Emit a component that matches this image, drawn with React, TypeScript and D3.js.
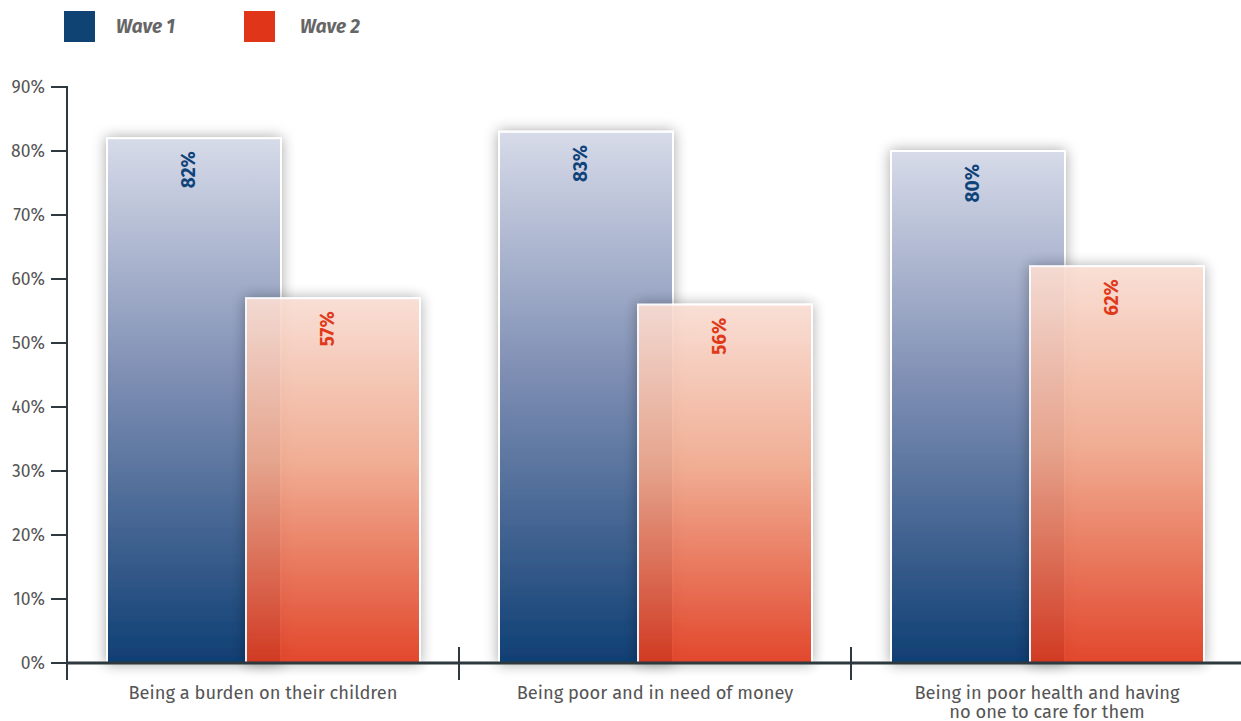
import React from "react";
import * as d3 from "d3";

const categories = [
  ["Being a burden on their children"],
  ["Being poor and in need of money"],
  ["Being in poor health and having", "no one to care for them"],
];
const seriesNames = ["Wave 1", "Wave 2"];
const wave1 = [82, 83, 80];
const wave2 = [57, 56, 62];
const yTicks = [0, 10, 20, 30, 40, 50, 60, 70, 80, 90];

const W = 1241;
const H = 721;
const FONT = "'Fira Sans', 'Open Sans', 'Noto Sans', sans-serif";

export default function App() {
  const y = d3.scaleLinear().domain([0, 90]).range([663, 87]);
  const x = d3
    .scaleBand<number>()
    .domain(categories.map((_, i) => i))
    .range([67, 67 + 392 * 3])
    .padding(0);
  const inner = d3.scalePoint<string>().domain(seriesNames).range([127, 266]);
  const barW = 174;
  const series = [
    { name: seriesNames[0], values: wave1, grad: "gBlue", label: "#0f4379" },
    { name: seriesNames[1], values: wave2, grad: "gRed", label: "#e0391a" },
  ];

  return (
    <svg width={W} height={H} style={{ position: "absolute", left: 0, top: 0, background: "#fff" }}>
      <defs>
        <linearGradient id="gBlue" x1="0" y1="0" x2="0" y2="1">
          <stop offset="0" stopColor="#d7dbe9" />
          <stop offset="0.45" stopColor="#7f8fb4" />
          <stop offset="1" stopColor="#0f3f74" />
        </linearGradient>
        <linearGradient id="gRed" x1="0" y1="0" x2="0" y2="1">
          <stop offset="0" stopColor="#f9ddd3" />
          <stop offset="0.45" stopColor="#f0a88c" />
          <stop offset="1" stopColor="#e03a1d" />
        </linearGradient>
        <filter id="shadow" x="-30%" y="-30%" width="160%" height="160%">
          <feDropShadow dx="0" dy="0" stdDeviation="7" floodColor="#000" floodOpacity="0.35" />
        </filter>
      </defs>

      {/* legend */}
      <g fontFamily={FONT} fontStyle="italic" fontWeight="bold" fontSize={19} fill="#666">
        <rect x={64} y={11} width={31} height={31} fill="#0f4374" />
        <text x={116} y={33}>{seriesNames[0]}</text>
        <rect x={244} y={11} width={31} height={31} fill="#e03518" />
        <text x={300} y={33}>{seriesNames[1]}</text>
      </g>

      {/* bars */}
      {categories.map((_, ci) =>
        series.map((s, si) => {
          const cx = (x(ci) as number) + (inner(s.name) as number);
          const top = y(s.values[ci]);
          return (
            <g key={`${ci}-${si}`}>
              <rect
                x={cx - barW / 2}
                y={top}
                width={barW}
                height={y(0) - top}
                fill={`url(#${s.grad})`}
                stroke="#fff"
                strokeWidth={2}
                opacity={si === 1 ? 0.93 : 1}
                filter="url(#shadow)"
              />
            </g>
          );
        })
      )}
      {categories.map((_, ci) =>
        series.map((s, si) => {
          const cx = (x(ci) as number) + (inner(s.name) as number);
          const top = y(s.values[ci]);
          return (
            <text
              key={`l${ci}-${si}`}
              transform={`translate(${cx + 1},${top + 13}) rotate(-90)`}
              textAnchor="end"
              fontFamily={FONT}
              fontWeight="bold"
              fontSize={19}
              fill={s.label}
            >
              {s.values[ci]}%
            </text>
          );
        })
      )}

      {/* y axis */}
      <line x1={67} x2={67} y1={86} y2={680} stroke="#2e383f" strokeWidth={2} />
      {yTicks.map((t) => (
        <g key={t}>
          <line x1={51} x2={67} y1={y(t)} y2={y(t)} stroke="#2e383f" strokeWidth={2} />
          <text
            x={45}
            y={y(t)}
            dy="0.35em"
            textAnchor="end"
            fontFamily={FONT}
            fontSize={17.5}
            fill="#555"
          >
            {t}%
          </text>
        </g>
      ))}

      {/* x axis */}
      <line x1={67} x2={W} y1={y(0)} y2={y(0)} stroke="#2e383f" strokeWidth={3} />
      {categories.map((_, ci) =>
        ci > 0 ? (
          <line
            key={`d${ci}`}
            x1={x(ci) as number}
            x2={x(ci) as number}
            y1={647}
            y2={680}
            stroke="#2e383f"
            strokeWidth={2}
          />
        ) : null
      )}
      {categories.map((lines, ci) => (
        <text
          key={`c${ci}`}
          textAnchor="middle"
          fontFamily={FONT}
          fontSize={18.3}
          fill="#555"
        >
          {lines.map((ln, li) => (
            <tspan key={li} x={(x(ci) as number) + x.bandwidth() / 2} y={699 + li * 19}>
              {ln}
            </tspan>
          ))}
        </text>
      ))}
    </svg>
  );
}
